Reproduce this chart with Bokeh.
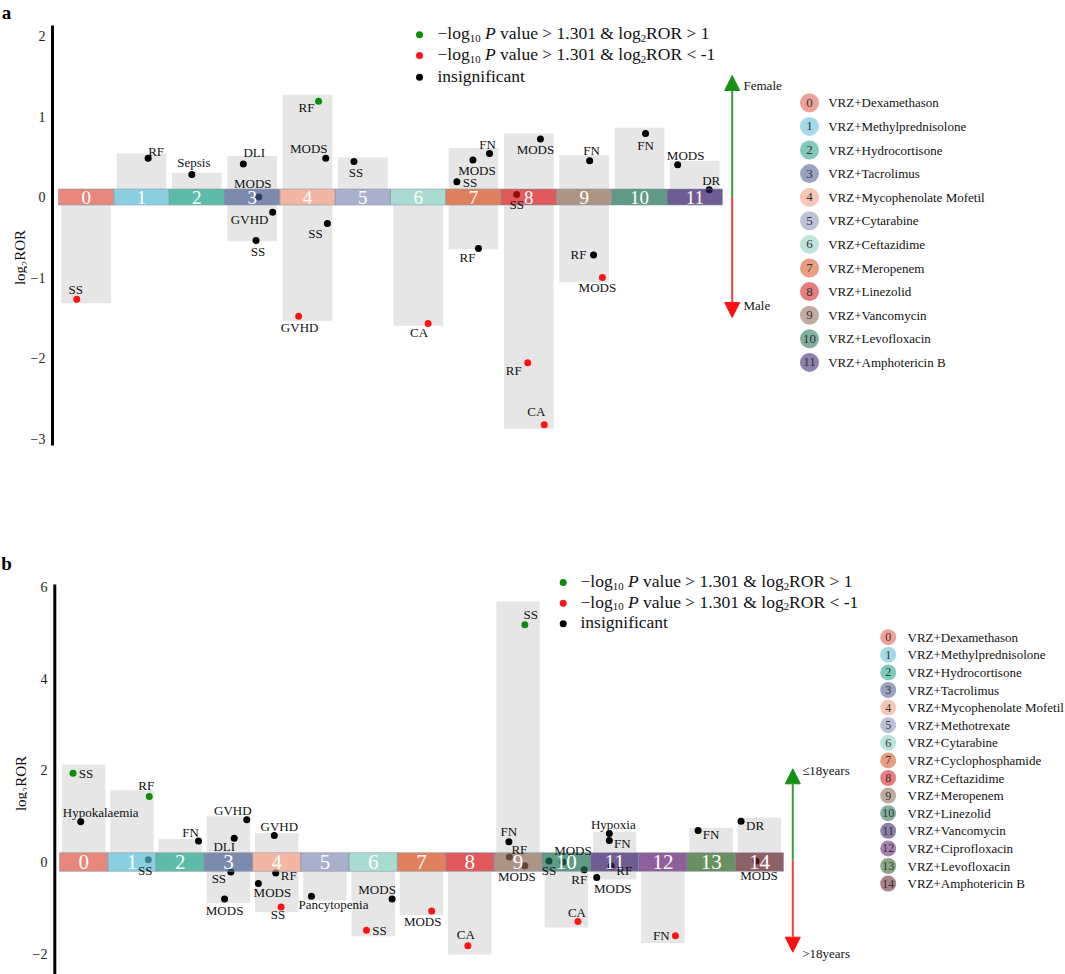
import math
from bokeh.plotting import figure
from bokeh.models import (ColumnDataSource, FixedTicker, Arrow, NormalHead,
                          Range1d, CustomJSTickFormatter)
from bokeh.layouts import column, row
from bokeh.embed import file_html
from bokeh.resources import INLINE
from bokeh.core.properties import value

SERIF = "Liberation Serif"

# ---------------- data: panel a (gender) ----------------
a_drugs = ["VRZ+Dexamethason", "VRZ+Methylprednisolone", "VRZ+Hydrocortisone", "VRZ+Tacrolimus",
           "VRZ+Mycophenolate Mofetil", "VRZ+Cytarabine", "VRZ+Ceftazidime", "VRZ+Meropenem",
           "VRZ+Linezolid", "VRZ+Vancomycin", "VRZ+Levofloxacin", "VRZ+Amphotericin B"]
a_cat = [0, 1, 2, 3, 3, 3, 3, 4, 4, 4, 4, 5, 6, 7, 7, 7, 7, 8, 8, 8, 8, 9, 9, 9, 10, 11, 11]
a_event = ["SS", "RF", "Sepsis", "DLI", "MODS", "GVHD", "SS", "RF", "MODS", "SS", "GVHD", "SS", "CA",
           "FN", "MODS", "SS", "RF", "MODS", "SS", "RF", "CA", "FN", "RF", "MODS", "FN", "MODS", "DR"]
a_log2ror = [-1.27, 0.48, 0.28, 0.41, 0.00, -0.19, -0.54, 1.19, 0.48, -0.33, -1.48, 0.44, -1.57,
             0.54, 0.46, 0.19, -0.64, 0.72, 0.03, -2.06, -2.83, 0.45, -0.72, -1.00, 0.79, 0.40, 0.09]
a_jitter = [-0.17, 0.12, -0.09, -0.16, 0.12, 0.37, 0.07, 0.20, 0.33, 0.36, -0.16, -0.16, 0.18,
            0.29, -0.01, -0.30, 0.09, 0.21, -0.22, -0.02, 0.28, 0.10, 0.17, 0.33, 0.11, -0.31, 0.26]
a_sig = ["down", "ns", "ns", "ns", "ns", "ns", "ns", "up", "ns", "ns", "down", "ns", "down",
         "ns", "ns", "ns", "ns", "ns", "ns", "down", "down", "ns", "ns", "down", "ns", "ns", "ns"]
a_bar_top = [0, 0.54, 0.30, 0.51, 1.27, 0.49, 0, 0.61, 0.79, 0.52, 0.86, 0.45]
a_bar_bottom = [-1.32, 0, 0, -0.55, -1.54, 0, -1.60, -0.65, -2.88, -1.06, 0, 0]
a_ticks = [-3, -2, -1, 0, 1, 2]

# ---------------- data: panel b (age) ----------------
b_drugs = ["VRZ+Dexamethason", "VRZ+Methylprednisolone", "VRZ+Hydrocortisone", "VRZ+Tacrolimus",
           "VRZ+Mycophenolate Mofetil", "VRZ+Methotrexate", "VRZ+Cytarabine", "VRZ+Cyclophosphamide",
           "VRZ+Ceftazidime", "VRZ+Meropenem", "VRZ+Linezolid", "VRZ+Vancomycin",
           "VRZ+Ciprofloxacin", "VRZ+Levofloxacin", "VRZ+Amphotericin B"]
b_cat = [0, 0, 1, 1, 2, 3, 3, 3, 3, 4, 4, 4, 4, 5, 6, 6, 7, 8, 9, 9, 9, 9,
         10, 10, 10, 10, 11, 11, 11, 11, 12, 13, 14, 14]
b_event = ["SS", "Hypokalaemia", "RF", "SS", "FN", "GVHD", "DLI", "SS", "MODS", "GVHD", "RF", "MODS", "SS",
           "Pancytopenia", "MODS", "SS", "MODS", "CA", "SS", "FN", "RF", "MODS",
           "SS", "MODS", "RF", "CA", "Hypoxia", "FN", "RF", "MODS", "FN", "FN", "DR", "MODS"]
b_log2ror = [1.94, 0.88, 1.43, 0.05, 0.46, 0.92, 0.52, -0.22, -0.81, 0.58, -0.24, -0.47, -0.98,
             -0.75, -0.81, -1.49, -1.07, -1.83, 5.18, 0.44, 0.11, -0.08,
             0.02, 0.00, -0.17, -1.30, 0.62, 0.47, -0.09, -0.34, -1.61, 0.69, 0.89, 0.02]
b_jitter = [-0.22, -0.06, 0.36, 0.34, 0.38, 0.38, 0.12, 0.05, -0.08, -0.05, -0.02, -0.38, 0.09,
            -0.28, 0.39, -0.14, 0.21, -0.04, 0.14, -0.19, -0.18, 0.14,
            -0.36, -0.07, 0.37, 0.24, -0.11, -0.11, -0.07, -0.37, 0.26, -0.27, -0.38, -0.07]
b_sig = ["up", "ns", "up", "ns", "ns", "ns", "ns", "ns", "ns", "ns", "ns", "ns", "down",
         "ns", "ns", "down", "down", "down", "up", "ns", "ns", "ns",
         "ns", "ns", "ns", "down", "ns", "ns", "ns", "ns", "down", "ns", "ns", "ns"]
b_bar_top = [2.13, 1.565, 0.50, 1.00, 0.633, 0, 0, 0, 0, 5.69, 0, 0.655, 0, 0.75, 0.97]
b_bar_bottom = [0, 0, 0, -0.90, -1.09, -0.84, -1.62, -1.16, -2.02, 0, -1.43, -0.38, -1.77, 0, 0]
b_ticks = [-2, 0, 2, 4, 6]

# ---------------- styles / layout ----------------
palette = ["#DE5645", "#58BBD1", "#189F83", "#44588C", "#EE977A", "#838EB5", "#84CDBC",
           "#D34C19", "#D31316", "#8A6851", "#196F51", "#301863", "#5F1B6F", "#2A611C", "#611C27"]
sig_color = {"up": "#0b8c0b", "down": "#ff1414", "ns": "#000000"}

# label offsets (screen px) for each point's text
a_lab = [(-1, -10), (8, -7), (2, -12), (11, -11), (-6, -14), (-23, 7), (2, 11), (-12, 6), (-17, -10),
         (-12, 10), (1, 11), (2, 11), (-9, 9), (-2, -9), (4, 11), (13, 1), (-11, 9), (-5, 10), (0, 10),
         (-14, 8), (-8, -13), (2, -10), (-15, 0), (-5, 10), (0, 12), (8, -9), (2, -9)]
b_lab = [(13, 0), (20, -9), (-3, -11), (-3, 11), (-8, -8), (-14, -9), (-10, 8), (-12, 6), (0, 11),
         (5, -9), (13, 3), (14, 9), (-3, 8), (22, 8), (-15, -10), (13, 0), (-9, 10), (-2, -11),
         (6, -10), (0, -10), (10, -7), (-8, 11), (0, 9), (10, -12), (-5, 10), (-1, -9),
         (4, -9), (13, 3), (13, 4), (16, 11), (-14, 0), (13, 4), (14, 4), (3, 14)]

# Times / Liberation Serif advance widths (per 1000 em)
TW = {' ': 250, '&': 778, '-': 333, '.': 250, '<': 564, '>': 564, 'O': 722, 'P': 611, 'R': 667,
      'a': 444, 'c': 444, 'e': 444, 'f': 333, 'g': 500, 'i': 278, 'l': 278, 'n': 500, 'o': 500,
      's': 389, 't': 278, 'u': 500, 'v': 500, '\u2212': 564}
for d in "0123456789":
    TW[d] = 500

LEFT_W = 27   # width of the margin strip holding the panel letter and y title


def tw(s, size):
    return sum(TW.get(ch, 500) for ch in s) * size / 1000.0


def rich_text(p, x, y, pieces, size):
    off = 0.0
    for txt, kind in pieces:
        fs = size * 0.62 if kind == "s" else size
        yo = size * 0.30 if kind == "s" else 0
        lead = len(txt) - len(txt.lstrip(" "))
        s = txt.strip(" ")
        if s:
            p.text(x=[x], y=[y], text=[s], x_offset=off + lead * 250 * fs / 1000.0, y_offset=yo,
                   text_font=value(SERIF), text_font_size=f"{fs:.1f}px",
                   text_font_style="italic" if kind == "i" else "normal",
                   text_align="left", text_baseline="middle", text_color="#111111")
        off += tw(txt, fs)


def make_margin(cfg):
    h = cfg["page_bottom"] - cfg["page_top"]
    m = figure(width=LEFT_W, height=h, output_backend="svg", toolbar_location=None,
               x_range=Range1d(0, LEFT_W), y_range=Range1d(cfg["page_bottom"], cfg["page_top"]),
               x_axis_location=None, y_axis_location=None, min_border=0)
    m.outline_line_color = None
    m.grid.visible = False
    m.text(x=[cfg["letter"][0]], y=[cfg["letter"][1]], text=[cfg["letter_text"]],
           text_align="center", text_baseline="middle", text_font=value(SERIF),
           text_font_size="19px", text_font_style="bold", text_color="black")
    m.text(x=[cfg["ytitle"][0]], y=[cfg["ytitle"][1]], text=["log\u2082ROR"], angle=math.pi / 2,
           text_align="center", text_baseline="middle", text_font=value(SERIF),
           text_font_size="15px", text_color="#111111")
    return m


def make_panel(cfg):
    X, Y = cfg["X"], cfg["Y"]
    p = figure(width=1065 - LEFT_W, height=cfg["page_bottom"] - cfg["page_top"], output_backend="svg",
               toolbar_location=None,
               x_range=Range1d(X(cfg["frame_left"]), X(1065)),
               y_range=Range1d(Y(cfg["page_bottom"]), Y(cfg["page_top"])),
               x_axis_location=None, min_border=0, min_border_left=cfg["frame_left"] - LEFT_W,
               min_border_right=0, min_border_top=0, min_border_bottom=0)
    p.outline_line_color = None
    p.grid.visible = False
    ax = p.yaxis[0]
    ax.ticker = FixedTicker(ticks=cfg["ticks"])
    ax.formatter = CustomJSTickFormatter(code="return tick < 0 ? '\\u2212' + Math.abs(tick) : String(tick);")
    ax.axis_line_color = None
    ax.major_tick_line_color = None
    ax.minor_tick_line_color = None
    ax.major_tick_out = 0
    ax.major_tick_in = 0
    ax.minor_tick_out = 0
    ax.minor_tick_in = 0
    ax.major_label_standoff = 5
    ax.major_label_text_font = SERIF
    ax.major_label_text_font_size = "14px"
    ax.major_label_text_color = "#222222"

    # axis line
    p.segment(x0=[X(cfg["axis_x"])], y0=[Y(cfg["axis_top"])], x1=[X(cfg["axis_x"])],
              y1=[Y(cfg["axis_bottom"])], line_color="black", line_width=3)

    n = len(cfg["drugs"])
    cats = list(range(n))
    # grey background bars
    p.vbar(x=cats, width=0.9, top=cfg["bar_top"], bottom=cfg["bar_bottom"],
           fill_color="#E6E6E6", line_color=None)
    hh = cfg["strip_h"]
    p.rect(x=cats, y=[0] * n, width=1, height=hh, fill_color="white", line_color=None)

    # points
    src = ColumnDataSource(dict(
        x=[c + j for c, j in zip(cfg["cat"], cfg["jitter"])],
        y=cfg["ror"],
        color=[sig_color[s] for s in cfg["sig"]],
        label=cfg["event"],
        dx=[o[0] for o in cfg["lab"]],
        dy=[o[1] for o in cfg["lab"]],
    ))
    p.scatter(x="x", y="y", size=7, fill_color="color", line_color=None, source=src)

    # coloured category strip
    p.rect(x=cats, y=[0] * n, width=1, height=hh, fill_color=palette[:n], fill_alpha=0.7,
           line_color="#8a94a6", line_alpha=0.7, line_width=0.8)
    p.text(x=cats, y=[0] * n, text=[str(c) for c in cats], text_color="white",
           text_font=value(SERIF), text_font_size=cfg["strip_font"], text_align="center",
           text_baseline="middle")

    # point labels
    p.text(x="x", y="y", text="label", x_offset="dx", y_offset="dy", source=src,
           text_font=value(SERIF), text_font_size="13px", text_align="center",
           text_baseline="middle", text_color="#111111")

    # significance legend
    lg = cfg["sig_legend"]
    for (kind, dot_y, pieces) in [("up", lg["rows"][0], [("\u2212log", "n"), ("10", "s"), (" ", "n"), ("P", "i"),
                                                        (" value > 1.301 & log", "n"), ("2", "s"), ("ROR > 1", "n")]),
                                  ("down", lg["rows"][1], [("\u2212log", "n"), ("10", "s"), (" ", "n"), ("P", "i"),
                                                          (" value > 1.301 & log", "n"), ("2", "s"), ("ROR < -1", "n")]),
                                  ("ns", lg["rows"][2], [("insignificant", "n")])]:
        p.scatter(x=[X(lg["dot_x"])], y=[Y(dot_y)], size=7, fill_color=sig_color[kind], line_color=None)
        rich_text(p, X(lg["text_x"]), Y(dot_y - 1.5), pieces, 17.5)

    # direction arrow
    ar = cfg["arrow"]
    xa = X(ar["x"])
    p.add_layout(Arrow(end=NormalHead(size=15, fill_color="#158f15", line_color="#158f15"),
                       x_start=xa, y_start=Y(ar["mid"]), x_end=xa, y_end=Y(ar["top"]),
                       line_color="#3c9e3c", line_width=2))
    p.add_layout(Arrow(end=NormalHead(size=15, fill_color="#ff1010", line_color="#ff1010"),
                       x_start=xa, y_start=Y(ar["mid"]), x_end=xa, y_end=Y(ar["bottom"]),
                       line_color="#f04040", line_width=2))
    p.text(x=[X(ar["text_x"])] * 2, y=[Y(ar["top_text_y"]), Y(ar["bottom_text_y"])],
           text=ar["texts"], text_font=value(SERIF), text_font_size="13px",
           text_align="left", text_baseline="middle", text_color="#111111")

    # drug legend
    dl = cfg["drug_legend"]
    ys = [Y(dl["y0"] + dl["step"] * i) for i in range(n)]
    p.scatter(x=[X(dl["dot_x"])] * n, y=ys, size=dl["dot_size"], fill_color=palette[:n],
              fill_alpha=0.55, line_color=None)
    p.text(x=[X(dl["dot_x"])] * n, y=ys, text=[str(c) for c in cats], text_font=value(SERIF),
           text_font_size=dl["num_font"], text_align="center", text_baseline="middle",
           text_color="#333333")
    p.text(x=[X(dl["text_x"])] * n, y=ys, text=cfg["drugs"], text_font=value(SERIF),
           text_font_size="13px", text_align="left", text_baseline="middle", text_color="#111111")
    return p


# page-pixel -> data helpers (panel geometry)
A_CW, A_PY = 55.33, 80.5
B_CW, B_PY = 48.27, 45.8

cfg_a = dict(
    X=lambda px: (px - 58) / A_CW - 0.5, Y=lambda py: (196.5 - py) / A_PY,
    page_top=0, page_bottom=480, frame_left=50,
    ticks=a_ticks, axis_x=52, axis_top=25, axis_bottom=445,
    drugs=a_drugs, cat=a_cat, event=a_event, ror=a_log2ror, jitter=a_jitter, sig=a_sig,
    bar_top=a_bar_top, bar_bottom=a_bar_bottom, lab=a_lab,
    strip_h=16 / A_PY, strip_font="19px",
    sig_legend=dict(dot_x=419, text_x=437, rows=[34.3, 55, 76.7]),
    arrow=dict(x=731.7, mid=196.5, top=75, bottom=317, text_x=743, top_text_y=85,
               bottom_text_y=305, texts=["Female", "Male"]),
    drug_legend=dict(dot_x=809, text_x=827.7, y0=102.3, step=23.6, dot_size=19, num_font="13px"),
    ytitle=(19.5, 257), letter=(6, 12), letter_text="a",
)
cfg_b = dict(
    X=lambda px: (px - 59) / B_CW - 0.5, Y=lambda py: (861.5 - py) / B_PY,
    page_top=480, page_bottom=974, frame_left=52,
    ticks=b_ticks, axis_x=54.3, axis_top=584, axis_bottom=990,
    drugs=b_drugs, cat=b_cat, event=b_event, ror=b_log2ror, jitter=b_jitter, sig=b_sig,
    bar_top=b_bar_top, bar_bottom=b_bar_bottom, lab=b_lab,
    strip_h=18.7 / B_PY, strip_font="21px",
    sig_legend=dict(dot_x=562.7, text_x=580, rows=[582, 602.7, 623.3]),
    arrow=dict(x=792.3, mid=860, top=768.3, bottom=951.7, text_x=801.7, top_text_y=770,
               bottom_text_y=953.3, texts=["\u226418years", ">18years"]),
    drug_legend=dict(dot_x=887.7, text_x=907.0, y0=636.7, step=17.6, dot_size=16, num_font="12px"),
    ytitle=(20, 783), letter=(6, 563), letter_text="b",
)

layout = column(row(make_margin(cfg_a), make_panel(cfg_a), spacing=0),
                row(make_margin(cfg_b), make_panel(cfg_b), spacing=0), spacing=0)
open("out.html", "w").write(file_html(layout, INLINE))
